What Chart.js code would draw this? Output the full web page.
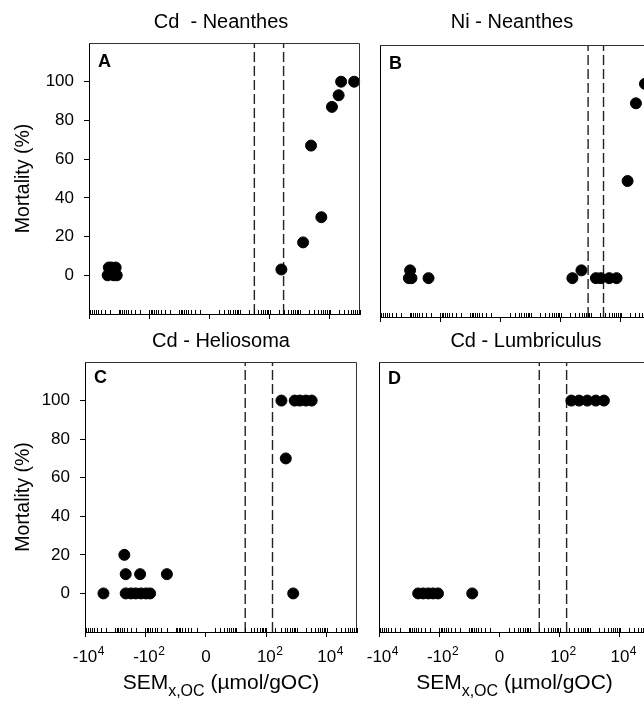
<!DOCTYPE html>
<html>
<head>
<meta charset="utf-8">
<script src="https://cdn.jsdelivr.net/npm/chart.js@4.4.0/dist/chart.umd.min.js"></script>
<style>
  html, body { margin: 0; padding: 0; background: #fff; overflow: hidden; }
  #wrap { position: relative; width: 644px; height: 706px; overflow: hidden; }
  canvas { position: absolute; left: 0; top: 0; }
</style>
</head>
<body>
<div id="wrap">
  <canvas id="pA" width="700" height="706"></canvas>
  <canvas id="pB" width="700" height="706"></canvas>
  <canvas id="pC" width="700" height="706"></canvas>
  <canvas id="pD" width="700" height="706"></canvas>
</div>
<script>
// SEM x,OC (umol/gOC) and mortality (%) for each panel
const semA  = [-2400, -2200, -1800, -1500, -1300, -1200, 245, 1290, 2370, 5200, 11700, 19500, 23600, 64000];
const mortA = [0, 4, 4, 0, 4, 0, 3, 17, 67, 30, 87, 93, 100, 100];
const cutA  = [31, 290];

const semB  = [-1100, -1000, -900, -245, 245, 490, 1480, 2150, 4100, 7200, 16700, 31600, 63000];
const mortB = [0, 4, 0, 0, 0, 4, 0, 0, 0, 0, 50, 90, 100];
const cutB  = [815, 2650];

const semC  = [-2450, -500, -450, -150, -19.5, -450, -300, -210, -140, -95, -70, 316, 440, 775, 870, 1290, 2040, 3160];
const mortC = [0, 20, 10, 10, 10, 0, 0, 0, 0, 0, 0, 100, 70, 0, 100, 100, 100, 100];
const cutC  = [20, 160];

const semD  = [-500, -340, -230, -160, -110, -8, 245, 440, 830, 1580, 2950];
const mortD = [0, 0, 0, 0, 0, 0, 100, 100, 100, 100, 100];
const cutD  = [21, 170];

const majorTicks = [-4, -2, 0, 2, 4];
const yTicks = [0, 20, 40, 60, 80, 100];

// symmetric log position: -10^4 -> -4, 0 -> 0, 10^2 -> 2
function toT(v) {
  if (v === 0) return 0;
  return Math.sign(v) * Math.log10(Math.abs(v));
}

function minorTicks() {
  const out = [];
  for (let k = 0; k < 5; k++) {
    for (let m = 2; m <= 10; m++) {
      const t = k + Math.log10(m);
      if (t <= 5) out.push(t);
      if (k < 4) out.push(-t);
    }
  }
  return out;
}

const FONT = '"Liberation Sans", Arial, sans-serif';

const panelText = {
  id: 'panelText',
  afterDraw(chart, args, o) {
    const ctx = chart.ctx;
    const a = chart.chartArea;
    const xs = chart.scales.x;
    ctx.save();
    ctx.fillStyle = '#000';

    // top and right frame
    ctx.lineWidth = 1;
    ctx.strokeStyle = '#333';
    ctx.beginPath();
    ctx.moveTo(a.left, a.top + 0.5);
    ctx.lineTo(a.right - 0.5, a.top + 0.5);
    ctx.lineTo(a.right - 0.5, a.bottom);
    ctx.stroke();

    // minor ticks, pointing in
    ctx.strokeStyle = '#000';
    ctx.beginPath();
    minorTicks().forEach(t => {
      const px = Math.round(xs.getPixelForValue(t)) + 0.5;
      ctx.moveTo(px, a.bottom);
      ctx.lineTo(px, a.bottom - 4);
    });
    ctx.stroke();

    // panel title
    ctx.font = '20px ' + FONT;
    ctx.textAlign = 'center';
    ctx.textBaseline = 'alphabetic';
    ctx.fillText(o.title, o.titleX, o.titleY);

    // panel letter
    ctx.font = 'bold 18px ' + FONT;
    ctx.textAlign = 'left';
    ctx.fillText(o.letter, a.left + 9, a.top + o.letterDy);

    // y title
    if (o.yTitle) {
      ctx.save();
      ctx.translate(29, (a.top + a.bottom) / 2);
      ctx.rotate(-Math.PI / 2);
      ctx.font = '19.5px ' + FONT;
      ctx.textAlign = 'center';
      ctx.fillText('Mortality (%)', 0, 0);
      ctx.restore();
    }

    // x tick labels with superscripts
    if (o.xLabels) {
      majorTicks.forEach(t => {
        const px = xs.getPixelForValue(t);
        const base = t === 0 ? '0' : (t < 0 ? '-10' : '10');
        const sup = t === 0 ? '' : String(Math.abs(t));
        ctx.font = '17px ' + FONT;
        const wb = ctx.measureText(base).width;
        ctx.textAlign = 'left';
        ctx.fillText(base, px - wb / 2, a.bottom + 30);
        if (sup) {
          ctx.font = '12px ' + FONT;
          ctx.fillText(sup, px + wb / 2 + 0.5, a.bottom + 23);
        }
      });

      // x title: SEM with subscript x,OC
      const parts = [
        ['SEM', '21px ', 0],
        ['x,OC', '16px ', 7],
        [' (\u00b5mol/gOC)', '21px ', 0]
      ];
      let total = 0;
      parts.forEach(p => { ctx.font = p[1] + FONT; total += ctx.measureText(p[0]).width; });
      let x = (a.left + a.right) / 2 - total / 2;
      const yb = a.bottom + 57;
      parts.forEach(p => {
        ctx.font = p[1] + FONT;
        ctx.fillText(p[0], x, yb + p[2]);
        x += ctx.measureText(p[0]).width;
      });
    }
    ctx.restore();
  }
};

function panel(id, sem, mort, cuts, area, opt) {
  const canvas = document.getElementById(id);
  const W = canvas.width, H = canvas.height;
  const yW = opt.yTitle ? 45 : 0;
  const xH = 5;

  const datasets = [{
    data: sem.map((s, i) => ({ x: toT(s), y: mort[i] })),
    backgroundColor: '#000',
    borderColor: '#000',
    pointRadius: 5.5,
    pointHoverRadius: 5.5,
    clip: false
  }];
  cuts.forEach(c => {
    datasets.push({
      data: [{ x: toT(c), y: -20 }, { x: toT(c), y: 120 }],
      showLine: true,
      borderColor: '#222',
      borderWidth: 1.4,
      borderDash: [10, 4],
      pointRadius: 0
    });
  });

  return new Chart(canvas, {
    type: 'scatter',
    data: { datasets },
    options: {
      responsive: false,
      animation: false,
      events: [],
      layout: {
        padding: {
          left: area.left - yW,
          top: area.top,
          right: W - area.right,
          bottom: H - area.bottom - xH
        }
      },
      plugins: {
        legend: { display: false },
        tooltip: { enabled: false },
        panelText: opt
      },
      scales: {
        x: {
          type: 'linear',
          min: -4,
          max: 5,
          afterBuildTicks: s => { s.ticks = majorTicks.map(v => ({ value: v })); },
          afterFit: s => { s.height = xH; },
          ticks: { display: false },
          grid: { drawOnChartArea: false, drawTicks: true, tickLength: 5, color: '#000' },
          border: { color: '#000', width: 1 }
        },
        y: {
          type: 'linear',
          min: -20,
          max: 120,
          afterBuildTicks: s => { s.ticks = yTicks.map(v => ({ value: v })); },
          afterFit: s => { s.width = yW; },
          ticks: {
            display: !!opt.yTitle,
            color: '#000',
            padding: 10,
            font: { family: FONT, size: 17 }
          },
          grid: { drawOnChartArea: false, drawTicks: !!opt.yTitle, tickLength: 5, color: '#000' },
          border: { color: '#000', width: 1 }
        }
      }
    },
    plugins: [panelText]
  });
}

panel('pA', semA, mortA, cutA, { left: 89, top: 43, right: 360, bottom: 314 },
  { title: 'Cd  - Neanthes', titleX: 221, titleY: 28, letter: 'A', letterDy: 24, yTitle: true, xLabels: false });
panel('pB', semB, mortB, cutB, { left: 380, top: 45, right: 651, bottom: 317 },
  { title: 'Ni - Neanthes', titleX: 512, titleY: 28, letter: 'B', letterDy: 24, yTitle: false, xLabels: false });
panel('pC', semC, mortC, cutC, { left: 85, top: 362, right: 357, bottom: 632 },
  { title: 'Cd - Heliosoma', titleX: 221, titleY: 347, letter: 'C', letterDy: 21, yTitle: true, xLabels: true });
panel('pD', semD, mortD, cutD, { left: 379, top: 362, right: 650, bottom: 632 },
  { title: 'Cd - Lumbriculus', titleX: 526, titleY: 347, letter: 'D', letterDy: 22, yTitle: false, xLabels: true });
</script>
</body>
</html>
